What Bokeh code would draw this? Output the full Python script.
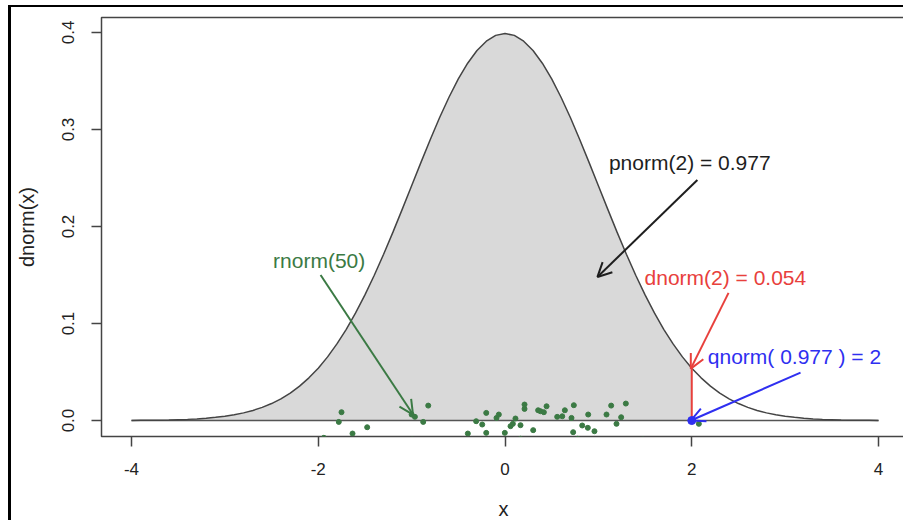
import math
from bokeh.plotting import figure
from bokeh.models import Arrow, OpenHead, FixedTicker, Range1d
from bokeh.core.properties import value
from bokeh.embed import file_html
from bokeh.resources import INLINE

# ---- data ----
curve_x = [round(-4 + 0.1 * i, 1) for i in range(81)]
half = [0.3989, 0.3970, 0.3910, 0.3814, 0.3683, 0.3521, 0.3332, 0.3123, 0.2897, 0.2661,
        0.2420, 0.2179, 0.1942, 0.1714, 0.1497, 0.1295, 0.1109, 0.0940, 0.0790, 0.0656,
        0.0540, 0.0440, 0.0355, 0.0283, 0.0224, 0.0175, 0.0136, 0.0104, 0.0079, 0.0060,
        0.0044, 0.0033, 0.0024, 0.0017, 0.0012, 0.0009, 0.0006, 0.0004, 0.0003, 0.0002,
        0.0001]
curve_y = half[::-1] + half[1:]
shade_to = 2.0
dnorm2 = 0.054
qnorm_x = 2.0

pts_x = [-1.94, -1.78, -1.751, -1.633, -1.476, -0.994, -1.00, -0.965, -0.876, -0.822,
         -0.398, -0.309, -0.244, -0.201, -0.201, -0.091, -0.066, -0.002, 0.024, 0.059,
         0.084, 0.112, 0.166, 0.166, 0.209, 0.209, 0.302, 0.355, 0.38, 0.416,
         0.445, 0.559, 0.613, 0.641, 0.712, 0.730, 0.737, 0.780, 0.827, 0.887,
         0.891, 0.958, 1.087, 1.137, 1.194, 1.244, 1.294, 1.476, 2.076]
pts_y = [-0.0178, -0.0014, 0.0086, -0.0134, -0.0069, -0.0195, 0.0062, 0.0038, -0.0014, 0.0154,
         -0.0134, -0.0007, -0.0041, 0.0079, -0.0127, 0.0027, 0.0062, -0.0127, -0.0195, -0.0058,
         -0.0034, 0.0021, -0.0048, -0.0188, 0.0165, 0.012, -0.0099, 0.0106, 0.0096, 0.0086,
         0.0147, 0.0038, 0.0044, 0.0106, 0.0027, -0.012, 0.0158, -0.0188, -0.0051, -0.0075,
         0.0062, -0.011, 0.0062, 0.0154, -0.0034, 0.0034, 0.0175, -0.0195, -0.0034]

x_ticks = [-4, -2, 0, 2, 4]
x_tick_labels = ["-4", "-2", "0", "2", "4"]
y_ticks = [0.0, 0.1, 0.2, 0.3, 0.4]
y_tick_labels = ["0.0", "0.1", "0.2", "0.3", "0.4"]

labels = ["rnorm(50)", "pnorm(2) =  0.977", "dnorm(2) = 0.054", "qnorm( 0.977 ) = 2"]

FONT = "Liberation Sans"
GREEN = "#3b7a44"
RED = "#e8403c"
BLUE = "#2f2ff0"
BLACK = "#1e1e1e"

p = figure(width=895, height=515, output_backend="svg", toolbar_location=None,
           x_range=Range1d(-4.3213, 4.2891), y_range=Range1d(-0.01645, 0.41542),
           min_border_left=90, min_border_right=1, min_border_top=10, min_border_bottom=85,
           x_axis_label="x", y_axis_label="dnorm(x)")
p.styles = {"border-left": "3px solid #000", "border-top": "2px solid #000",
            "margin-left": "8px", "margin-top": "5px"}
p.grid.visible = False
p.outline_line_color = "#444444"
p.outline_line_width = 1.5
p.background_fill_color = "white"

for ax in (p.xaxis[0], p.yaxis[0]):
    ax.axis_line_color = None
    ax.major_tick_line_color = "#444444"
    ax.major_tick_line_width = 1.5
    ax.major_tick_out = 10
    ax.major_tick_in = 0
    ax.minor_tick_line_color = None
    ax.major_label_text_font = FONT
    ax.major_label_text_font_size = "17px"
    ax.major_label_text_color = "#222222"
    ax.axis_label_text_font = FONT
    ax.axis_label_text_font_size = "20px"
    ax.axis_label_text_font_style = "normal"
    ax.axis_label_text_color = "#222222"

p.xaxis.ticker = FixedTicker(ticks=x_ticks)
p.yaxis.ticker = FixedTicker(ticks=y_ticks)
p.xaxis.major_label_overrides = dict(zip(x_ticks, x_tick_labels))
p.yaxis.major_label_overrides = dict(zip(y_ticks, y_tick_labels))
p.xaxis.major_label_standoff = 16
p.xaxis.axis_label_standoff = 20
p.yaxis.major_label_standoff = 17
p.yaxis.axis_label_standoff = 22
p.yaxis.major_label_orientation = "vertical"

# shaded area up to x = 2
n_shade = curve_x.index(shade_to) + 1
p.varea(x=curve_x[:n_shade], y1=[0] * n_shade, y2=curve_y[:n_shade], fill_color="#d9d9d9")
# baseline and curve
p.line(x=[curve_x[0], curve_x[-1]], y=[0, 0], line_color="#555555", line_width=1.5)
p.line(x=curve_x, y=curve_y, line_color="#444444", line_width=1.5)
# dnorm(2) segment
p.segment(x0=[shade_to], y0=[0], x1=[shade_to], y1=[dnorm2], line_color=RED, line_width=2)

# random points
p.scatter(x=pts_x, y=pts_y, size=5, color=GREEN)
# qnorm point
p.scatter(x=[qnorm_x], y=[0], size=8, color=BLUE)

# annotations
ann = [
    (labels[0], -1.99, 0.1645, GREEN, (-1.975, 0.150, -0.985, 0.0062)),
    (labels[1], 2.01, 0.266, BLACK, (2.06, 0.248, 0.99, 0.148)),
    (labels[2], 2.36, 0.147, RED, (2.394, 0.1316, 1.99, 0.0535)),
    (labels[3], 3.10, 0.0658, BLUE, (3.165, 0.0494, 1.99, 0.0)),
]
for txt, tx, ty, col, (xs, ys, xe, ye) in ann:
    p.text(x=[tx], y=[ty], text=[txt], text_color=col, text_font=value(FONT),
           text_font_size="21px", text_align="center", text_baseline="middle")
    p.add_layout(Arrow(end=OpenHead(size=14, line_color=col, line_width=2),
                       x_start=xs, y_start=ys, x_end=xe, y_end=ye,
                       line_color=col, line_width=2))

open("out.html", "w").write(file_html(p, INLINE))
